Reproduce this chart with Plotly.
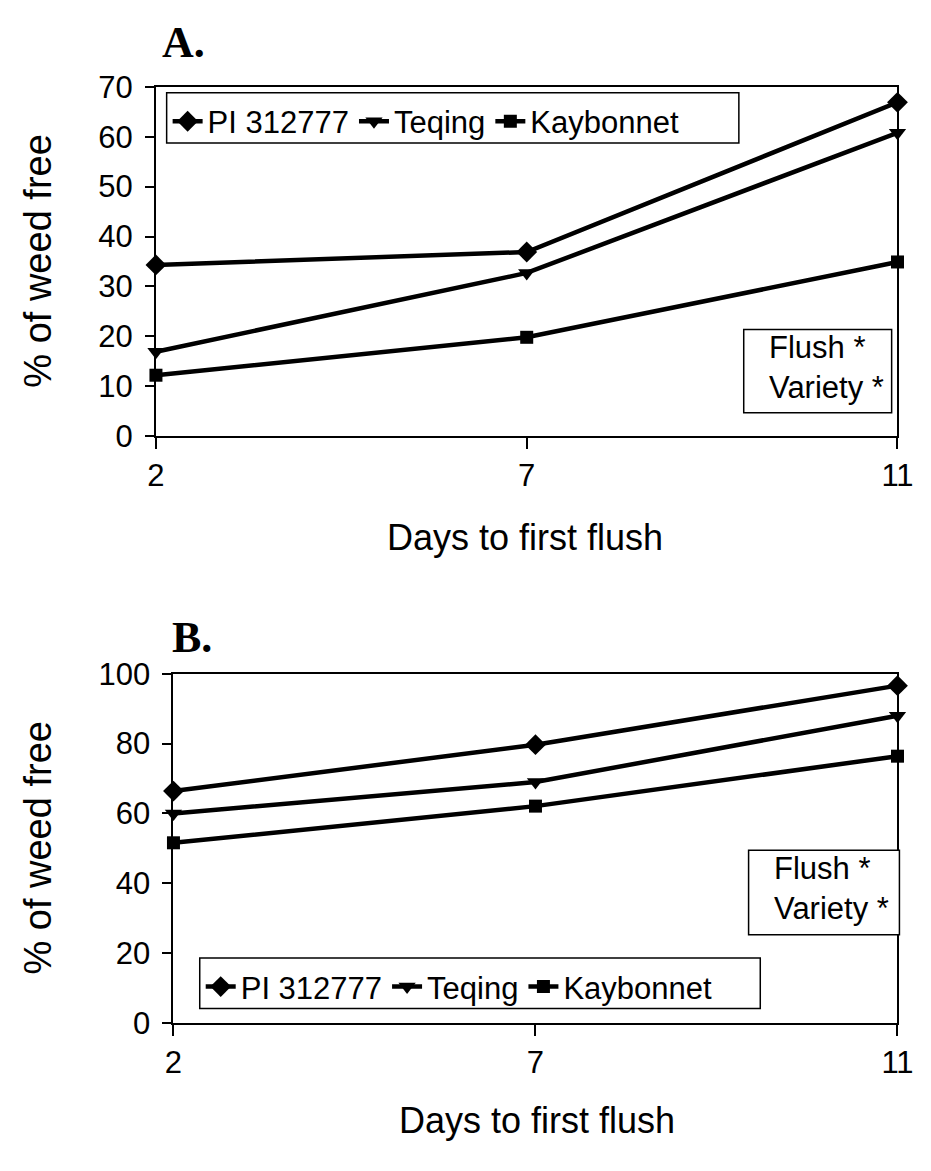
import plotly.graph_objects as go

# Days to first flush (category axis) and % of weed-free values
days = ["2", "7", "11"]
varieties = ["PI 312777", "Teqing", "Kaybonnet"]
symbols = ["diamond", "triangle-down", "square"]

a_pi = [34.3, 36.9, 66.9]
a_teqing = [16.9, 32.7, 60.8]
a_kaybonnet = [12.2, 19.8, 34.9]

b_pi = [66.4, 79.7, 96.6]
b_teqing = [60.0, 69.0, 88.0]
b_kaybonnet = [51.6, 62.1, 76.4]

W, H = 931, 1171
SANS = "Liberation Sans, Arial, sans-serif"
SERIF = "Liberation Serif, Times New Roman, serif"


def px(x):
    return x / W


def py(y):
    return 1 - y / H


fig = go.Figure()

panels = [
    ("x", "y", "legend", [a_pi, a_teqing, a_kaybonnet]),
    ("x2", "y2", "legend2", [b_pi, b_teqing, b_kaybonnet]),
]
marker_size = {"diamond": 16, "triangle-down": 15, "square": 13}
for xa, ya, leg, series in panels:
    for name, sym, vals in zip(varieties, symbols, series):
        fig.add_trace(go.Scatter(
            x=days, y=vals, name=name, mode="lines+markers",
            xaxis=xa, yaxis=ya, legend=leg, cliponaxis=False,
            line=dict(color="black", width=4.5),
            marker=dict(symbol=sym, color="black", size=marker_size[sym]),
        ))

axis_common = dict(
    showline=True, linecolor="black", linewidth=2, mirror=True,
    ticks="outside", tickcolor="black", tickwidth=2,
    showgrid=False, zeroline=False,
    tickfont=dict(family=SANS, size=31, color="black"),
)

legend_common = dict(
    orientation="h", xanchor="left", yanchor="top",
    borderwidth=0, bgcolor="rgba(0,0,0,0)", itemwidth=30,
    font=dict(family=SANS, size=31, color="black"),
)

fig.update_layout(
    width=W, height=H,
    margin=dict(l=0, r=0, t=0, b=0),
    paper_bgcolor="white", plot_bgcolor="white",
    xaxis=dict(domain=[px(151), px(913)], anchor="y", type="category",
               range=[0, 2], ticklen=11, **axis_common),
    yaxis=dict(domain=[py(432), py(72)], anchor="x", range=[0, 70],
               dtick=10, ticklen=9, ticklabelstandoff=6, **axis_common),
    xaxis2=dict(domain=[px(169), px(913)], anchor="y2", type="category",
                range=[0, 2], ticklen=11, **axis_common),
    yaxis2=dict(domain=[py(1037), py(677)], anchor="x2", range=[0, 100],
                dtick=20, ticklen=9, ticklabelstandoff=6, **axis_common),
    legend=dict(x=px(163), y=py(80), **legend_common),
    legend2=dict(x=px(197), y=py(972), **legend_common),
    showlegend=True,
)

# Legend frames and significance boxes
boxes = [
    (162, 78, 750, 130),
    (196, 970, 772, 1022),
    (755, 322, 907, 408),
    (760, 859, 915, 946),
]
for (x0, y0, x1, y1) in boxes:
    fig.add_shape(type="rect", xref="paper", yref="paper",
                  x0=px(x0), x1=px(x1), y0=py(y1), y1=py(y0),
                  line=dict(color="black", width=1.5), fillcolor="white",
                  layer="above")

annots = [
    # significance text
    dict(text="Flush *<br>Variety *", x=px(779), y=py(361), xanchor="left",
         yanchor="middle", align="left",
         font=dict(family=SANS, size=31, color="black")),
    dict(text="Flush *<br>Variety *", x=px(784), y=py(898), xanchor="left",
         yanchor="middle", align="left",
         font=dict(family=SANS, size=31, color="black")),
    # panel letters
    dict(text="<b>A.</b>", x=px(155), y=py(26), xanchor="left",
         yanchor="middle", font=dict(family=SERIF, size=44, color="black")),
    dict(text="<b>B.</b>", x=px(165), y=py(640), xanchor="left",
         yanchor="middle", font=dict(family=SERIF, size=44, color="black")),
    # axis titles
    dict(text="Days to first flush", x=px(530), y=py(537), xanchor="center",
         yanchor="middle", font=dict(family=SANS, size=36, color="black")),
    dict(text="Days to first flush", x=px(543), y=py(1138), xanchor="center",
         yanchor="middle", font=dict(family=SANS, size=36, color="black")),
    dict(text="% of weed free", x=px(30), y=py(252), xanchor="center",
         yanchor="middle", textangle=-90,
         font=dict(family=SANS, size=38, color="black")),
    dict(text="% of weed free", x=px(30), y=py(857), xanchor="center",
         yanchor="middle", textangle=-90,
         font=dict(family=SANS, size=38, color="black")),
]
for a in annots:
    fig.add_annotation(xref="paper", yref="paper", showarrow=False, **a)

fig.write_html("out.html")
